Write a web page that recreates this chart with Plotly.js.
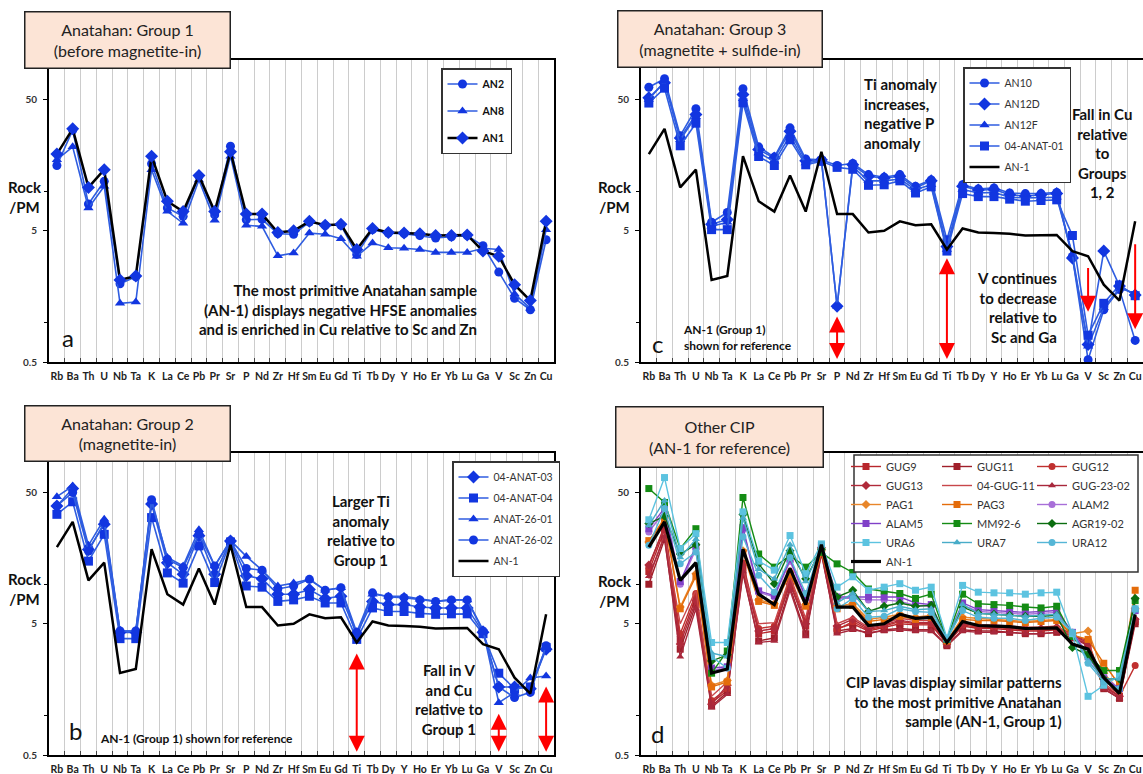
<!DOCTYPE html>
<html><head><meta charset="utf-8">
<script src="https://cdn.plot.ly/plotly-3.0.1.min.js"></script>
<style>html,body{margin:0;padding:0;background:#fff;}#chart{width:1143px;height:774px;}</style>
</head><body><div id="chart"></div>
<script>
const elements = ['Rb','Ba','Th','U','Nb','Ta','K','La','Ce','Pb','Pr','Sr','P','Nd','Zr','Hf','Sm','Eu','Gd','Ti','Tb','Dy','Y','Ho','Er','Yb','Lu','Ga','V','Sc','Zn','Cu'];
const yTickVals = [0.5, 5, 50];
const yTickText = ['0.5', '5', '50'];

// AN-1 (Group 1 reference, shown in every panel)
const AN1 = [19.2,29.9,10.7,14.6,2.11,2.26,18.5,8.4,7.0,13.2,7.0,20.0,6.7,6.7,4.85,5.0,5.9,5.5,5.6,3.6,5.2,4.85,4.8,4.75,4.6,4.6,4.65,3.5,3.2,1.94,1.47,5.9];
// Panel a: Group 1
const AN2 = [15.7,29.2,8.0,11.9,1.97,2.23,16.2,7.45,6.44,13.0,6.6,22.0,6.07,6.1,4.75,4.7,5.83,5.5,5.5,3.3,5.1,4.8,4.75,4.6,4.4,4.5,4.6,3.84,2.42,1.53,1.25,4.27];
const AN8 = [17.4,21.8,7.45,10.9,1.40,1.43,14.6,7.03,5.7,12.2,6.0,18.5,5.5,5.4,3.22,3.38,4.8,4.7,4.35,3.2,4.03,3.71,3.68,3.6,3.42,3.42,3.42,3.68,3.6,1.65,1.28,5.1];
// Panel c: Group 3
const AN10 = [62,72,26.5,42.5,5.8,6.9,60.4,21.8,18.2,30.4,17.6,17.4,15.7,16.3,13.4,12.8,13.4,10.9,12.2,4.27,11.2,10.4,10.6,9.7,9.6,9.6,9.8,3.18,0.52,1.25,1.78,0.73];
const AN12D = [51.5,67,25.5,38.4,5.6,6.1,54.5,20.8,17.9,28.6,17.1,17.4,1.33,15.9,13.0,12.6,13.0,10.6,12.0,3.8,10.9,10.2,10.3,9.4,9.2,9.4,9.6,3.1,0.68,3.5,1.9,1.62];
const AN12F = [50,69,24.7,37,5.4,5.8,50.6,19.6,16.9,26.5,16.4,17.2,1.33,15.4,12.0,12.0,12.4,10.3,11.2,3.6,10.3,9.7,9.8,9.0,8.9,8.9,9.0,3.3,0.66,1.3,1.82,1.67];
const ANAT0401 = [47,61,22.2,33,5.1,5.1,47.2,18.4,15.7,24.7,15.9,16.9,15.2,14.7,11.1,11.2,12.0,9.7,10.8,3.5,9.6,9.1,9.1,8.7,8.4,8.5,8.6,4.6,0.80,1.4,1.93,1.6];
// Panel b: Group 2
const ANAT0403 = [39.5,53.6,18.4,28.6,4.3,4.3,40.8,14.6,11.9,23.4,11.9,21.4,11.6,11.0,8.4,8.4,9.1,7.8,8.1,4.2,7.4,7.0,7.0,6.7,6.6,6.6,6.6,4.3,1.65,1.65,1.6,3.2];
const ANAT0404 = [34.1,42.5,15.0,24.0,3.85,3.85,32.2,12.2,10.2,19.6,10.3,21.0,9.7,9.5,7.4,7.6,8.1,7.2,7.2,3.8,6.6,6.2,6.2,6.0,5.9,5.95,5.95,4.2,2.1,1.6,1.65,3.3];
const ANAT2601 = [46.5,56,19.8,31.3,4.4,4.4,42.5,16.0,13.8,26,13.8,21.6,16.3,12.8,9.7,10.2,10.9,9.0,9.4,4.0,8.4,8.1,8.1,7.7,7.4,7.6,7.6,4.5,1.25,1.5,1.93,2.0];
const ANAT2602 = [39.5,50,17.9,29.5,4.4,4.4,44,15.5,13.4,24.1,13.8,21.4,13.2,12.8,9.2,9.7,10.9,9.0,9.4,4.3,8.6,8.0,7.9,7.6,7.4,7.6,7.6,4.4,1.65,1.37,1.5,3.4];
// Panel d: other CIP
const GUG9 = [12.5,26,3.8,8.0,1.25,1.55,13.5,4.2,4.4,10.5,4.8,18.0,4.6,5.0,4.4,4.7,5.0,4.9,4.9,3.5,4.8,4.6,4.6,4.5,4.4,4.4,4.5,4.0,3.6,1.7,1.4,5.2];
const GUG11 = [10.0,22,3.2,7.0,1.18,1.5,12.0,3.7,3.9,9.5,4.2,17.0,4.4,4.6,4.2,4.5,4.6,4.5,4.5,3.4,4.5,4.4,4.4,4.3,4.2,4.2,4.3,3.9,3.4,1.6,1.35,5.0];
const GUG12 = [13.5,28,4.2,8.5,1.3,1.6,14.5,4.6,4.8,11.0,5.2,18.5,4.5,5.2,4.5,4.8,5.2,5.0,5.0,3.6,4.9,4.7,4.7,4.6,4.5,4.5,4.6,4.1,3.7,1.7,1.4,2.4];
const GUG13 = [14,27,3.5,7.5,1.22,1.7,14,4.4,4.6,10.0,5.0,19,4.8,5.4,4.6,4.9,5.3,5.1,5.1,3.5,5.0,4.8,4.8,4.7,4.6,4.6,4.7,4.2,3.5,1.65,1.4,5.4];
const GUG0411 = [11,24,5.0,9.0,1.4,1.8,13,5.0,5.1,11.5,5.5,19.5,5.0,5.6,4.7,5.0,5.5,5.3,5.3,3.6,5.1,4.9,4.9,4.8,4.7,4.7,4.8,4.0,3.5,1.75,1.45,5.6];
const GUG2302 = [11.5,23,2.8,6.5,1.15,1.45,12.5,3.6,3.7,9.0,4.0,17.5,4.2,4.5,4.3,4.4,4.5,4.4,4.4,3.4,4.4,4.3,4.3,4.3,4.2,4.2,4.3,3.9,3.5,1.6,1.35,5.3];
const PAG1 = [21,32,6.7,12,1.7,1.85,18,7.6,7.1,12.5,7.0,18,6.8,7.1,5.4,5.6,5.9,5.6,5.8,3.7,5.6,5.5,5.4,5.3,5.2,5.3,5.4,4.2,4.4,2.1,1.55,6.5];
const PAG3 = [21.5,31,6.5,11.5,1.65,1.8,17.5,7.4,6.9,12.0,6.8,17.5,6.5,6.9,5.2,5.4,5.7,5.4,5.6,3.7,5.4,5.3,5.3,5.2,5.1,5.2,5.3,4.1,3.8,2.5,1.7,9.0];
const ALAM2 = [25,36,10,18.5,2.2,2.3,26,8.7,8.0,15.0,7.8,19.5,7.8,7.8,7.6,7.6,7.4,6.9,6.8,3.8,6.9,6.2,6.1,6.0,5.9,6.0,6.1,4.3,2.9,2.0,1.6,6.3];
const ALAM5 = [26.5,38,10.5,19.5,2.3,2.35,27,8.9,8.2,15.5,8.0,19.8,8.0,8.0,8.0,8.0,8.0,7.2,7.0,3.8,7.2,6.4,6.3,6.2,6.1,6.2,6.3,4.3,2.8,1.9,1.6,6.3];
const MM926 = [53.6,42,18.7,26.5,2.1,3.1,45.8,17,13.5,16.6,13.5,17.5,14.3,12.3,9.2,8.9,8.5,7.8,8.4,3.8,8.4,7.1,7.0,6.9,6.7,6.6,6.8,4.0,2.9,2.2,2.2,7.5];
const AGR1902 = [29,33,17,20,2.6,2.9,34,14.3,10.1,18,11.0,18.5,8.0,9.0,6.2,6.8,7.2,6.8,6.9,3.8,6.7,6.0,5.9,5.8,5.7,5.7,5.8,3.3,2.9,1.9,1.9,7.8];
const URA6 = [31,65,18.7,24.3,3.6,3.6,35.6,15,12.8,23.5,12.0,20.3,9.5,11.4,9.0,9.5,10.1,9.0,9.5,3.9,9.8,8.7,8.6,8.6,8.4,8.6,8.7,4.2,1.4,1.7,2.0,6.5];
const URA7 = [28,43.5,16,22,3.0,2.8,32,13,11.0,20,10.5,19.5,7.2,8.5,6.2,6.3,6.8,6.4,6.5,3.8,7.0,6.0,5.9,5.8,5.7,5.8,5.9,4.3,2.6,1.9,1.9,6.3];
const URA12 = [19.8,37.8,14.3,17.6,2.8,2.3,23,11.7,8.7,16,8.5,20,6.5,7.8,5.6,5.7,6.5,6.2,6.1,3.8,6.3,5.6,5.5,5.5,5.3,5.5,5.6,4.3,2.5,1.8,1.6,6.5];

const W = 1143, H = 774;
const px = v => v / W;
const py = v => 1 - v / H;
const FONT = 'Lato, "Open Sans", sans-serif';
const BLUE_L = '#2f5de0', BLUE_M = '#1236e0';

function blue(name, y, sym, xa, ya, leg, grp) {
  return {type:'scatter', mode:'lines+markers', name, x: elements, y, xaxis: xa, yaxis: ya, legend: leg, legendgroup: grp,
    line:{color:BLUE_L, width:1.6}, marker:{symbol:sym, size: sym==='diamond'?10:9, color:BLUE_M, line:{width:0}}};
}
function blackLine(y, xa, ya, leg, w, grp) {
  return {type:'scatter', mode:'lines', name:'AN-1', x: elements, y, xaxis: xa, yaxis: ya, legend: leg, legendgroup: grp,
    line:{color:'#000', width:w}};
}
function cip(name, y, sym, color, leg, mode) {
  return {type:'scatter', mode: mode || 'lines+markers', name, x: elements, y, xaxis:'x4', yaxis:'y4', legend: leg,
    line:{color, width:1.4}, marker:{symbol:sym, size:7, color, line:{width:0}}};
}

const traces = [
  // a
  blue('AN2', AN2, 'circle', 'x', 'y', 'legend', 'a1'),
  blue('AN8', AN8, 'triangle-up', 'x', 'y', 'legend', 'a2'),
  {type:'scatter', mode:'lines+markers', name:'AN1', x: elements, y: AN1, xaxis:'x', yaxis:'y', legend:'legend', legendgroup:'a3',
    line:{color:'#000', width:2.5}, marker:{symbol:'diamond', size:10, color:BLUE_M, line:{width:0}}},
  // c
  blue('AN10', AN10, 'circle', 'x2', 'y2', 'legend2', 'c1'),
  blue('AN12D', AN12D, 'diamond', 'x2', 'y2', 'legend2', 'c2'),
  blue('AN12F', AN12F, 'triangle-up', 'x2', 'y2', 'legend2', 'c3'),
  blue('04-ANAT-01', ANAT0401, 'square', 'x2', 'y2', 'legend2', 'c4'),
  blackLine(AN1, 'x2', 'y2', 'legend2', 2.5, 'c5'),
  // b
  blue('04-ANAT-03', ANAT0403, 'diamond', 'x3', 'y3', 'legend3', 'b1'),
  blue('04-ANAT-04', ANAT0404, 'square', 'x3', 'y3', 'legend3', 'b2'),
  blue('ANAT-26-01', ANAT2601, 'triangle-up', 'x3', 'y3', 'legend3', 'b3'),
  blue('ANAT-26-02', ANAT2602, 'circle', 'x3', 'y3', 'legend3', 'b4'),
  blackLine(AN1, 'x3', 'y3', 'legend3', 2.5, 'b5'),
  // d
  cip('GUG9', GUG9, 'square', '#b8262c', 'legend4'),
  cip('GUG11', GUG11, 'square', '#a01f2a', 'legend5'),
  cip('GUG12', GUG12, 'circle', '#c0302f', 'legend6'),
  cip('GUG13', GUG13, 'diamond', '#b02a3a', 'legend4'),
  cip('04-GUG-11', GUG0411, 'circle', '#c8464a', 'legend5', 'lines'),
  cip('GUG-23-02', GUG2302, 'triangle-up', '#a8283c', 'legend6'),
  cip('PAG1', PAG1, 'diamond', '#e8862a', 'legend4'),
  cip('PAG3', PAG3, 'square', '#e46c0a', 'legend5'),
  cip('ALAM2', ALAM2, 'circle', '#a86fd8', 'legend6'),
  cip('ALAM5', ALAM5, 'square', '#8040c8', 'legend4'),
  cip('MM92-6', MM926, 'square', '#148c14', 'legend5'),
  cip('AGR19-02', AGR1902, 'diamond', '#0b6e10', 'legend6'),
  cip('URA6', URA6, 'square', '#5cc3e0', 'legend4'),
  cip('URA7', URA7, 'triangle-up', '#48acc8', 'legend5'),
  cip('URA12', URA12, 'circle', '#55b6d6', 'legend6'),
  blackLine(AN1, 'x4', 'y4', 'legend4', 3.2)
];

function xAxis(dom, anchor) {
  return {domain: dom, anchor, type:'category', categoryorder:'array', categoryarray: elements, range:[-0.5, 31.5],
    tickson:'boundaries', showgrid:true, gridcolor:'#cccccc', gridwidth:1, showline:true, linecolor:'#000', linewidth:2,
    mirror:true, ticks:'inside', ticklen:4, tickcolor:'#444', zeroline:false, tickangle:0,
    tickfont:{family:FONT, size:10.5, weight:'bold', color:'#222'}, ticklabelstandoff:3};
}
function yAxis(dom, anchor) {
  return {domain: dom, anchor, type:'log', range:[Math.log10(0.5), 2], tickmode:'array', tickvals: yTickVals, ticktext: yTickText,
    showgrid:false, showline:true, linecolor:'#000', linewidth:2, mirror:true, ticks:'outside', ticklen:4, tickcolor:'#000',
    minor:{tickmode:'array', tickvals:[1,10,100], ticks:'outside', ticklen:3, tickcolor:'#000', showgrid:false},
    zeroline:false, tickfont:{family:FONT, size:10, weight:'bold', color:'#333'}, ticklabelstandoff:4};
}

const xa = [px(49), px(554)], xc = [px(641), 1];
const yTop = [py(362), py(60)], yBot = [py(755), py(453)];

function txt(text, x, y, o) {
  return Object.assign({xref:'paper', yref:'paper', x: px(x), y: py(y), text, showarrow:false,
    font:{family:FONT, size:15, weight:'bold', color:'#111'}, xanchor:'center', yanchor:'middle'}, o || {});
}
function box(text, x0, x1, y0, y1) {
  return {xref:'paper', yref:'paper', x: px((x0+x1)/2), y: py((y0+y1)/2), text, showarrow:false,
    xanchor:'center', yanchor:'middle', width: x1-x0-4, height: y1-y0-4, borderpad:1,
    bgcolor:'#fce4d6', bordercolor:'#222', borderwidth:1.5, align:'center',
    font:{family:FONT, size:16, color:'#222'}};
}
function arrow(xref, yref, el, yHead, yTail, both) {
  return {xref, yref, axref: xref, ayref: yref, x: elements.indexOf(el), y: Math.log10(yHead),
    ax: elements.indexOf(el), ay: Math.log10(yTail), text:'', showarrow:true, arrowhead:2, arrowsize:1.6,
    arrowwidth:2, arrowcolor:'#ff0000', arrowside: both ? 'end+start' : 'end', standoff:0, startstandoff:0};
}

const annotations = [
  box('Anatahan: Group 1<br>(before magnetite-in)', 24, 230, 12, 69),
  box('Anatahan: Group 3<br>(magnetite + sulfide-in)', 617, 822, 10, 67),
  box('Anatahan: Group 2<br>(magnetite-in)', 24, 230, 405, 461),
  box('Other CIP<br>(AN-1 for reference)', 615, 823, 406, 467),
  // y titles
  txt('Rock<br>/PM', 25, 197, {font:{family:FONT, size:15, weight:'bold', color:'#111'}}),
  txt('Rock<br>/PM', 615, 197, {font:{family:FONT, size:15, weight:'bold', color:'#111'}}),
  txt('Rock<br>/PM', 25, 589, {font:{family:FONT, size:15, weight:'bold', color:'#111'}}),
  txt('Rock<br>/PM', 615, 591, {font:{family:FONT, size:15, weight:'bold', color:'#111'}}),
  // panel letters
  txt('a', 68, 338, {font:{family:FONT, size:24, color:'#111'}}),
  txt('c', 657, 343, {font:{family:FONT, size:24, color:'#111'}}),
  txt('b', 75, 730, {font:{family:FONT, size:24, color:'#111'}}),
  txt('d', 657, 733, {font:{family:FONT, size:24, color:'#111'}}),
  // panel a
  txt('The most primitive Anatahan sample<br>(AN-1) displays negative HFSE anomalies<br>and is enriched in Cu relative to Sc and Zn', 479, 309, {xanchor:'right', align:'right'}),
  // panel c
  txt('Ti anomaly<br>increases,<br>negative P<br>anomaly', 862, 113, {xanchor:'left', align:'left'}),
  txt('Fall in Cu<br>relative<br>to<br>Groups<br>1, 2', 1102, 153, {align:'center'}),
  txt('V continues<br>to decrease<br>relative to<br>Sc and Ga', 1059, 307, {xanchor:'right', align:'right'}),
  txt('AN-1 (Group 1)<br>shown for reference', 681, 337, {xanchor:'left', align:'left', font:{family:FONT, size:12, weight:'bold', color:'#111'}}),
  // panel b
  txt('Larger Ti<br>anomaly<br>relative to<br>Group 1', 361, 530, {align:'center'}),
  txt('Fall in V<br>and Cu<br>relative to<br>Group 1', 449, 699, {align:'center'}),
  txt('AN-1 (Group 1) shown for reference', 98, 738, {xanchor:'left', font:{family:FONT, size:12, weight:'bold', color:'#111'}}),
  // panel d
  txt('CIP lavas display similar patterns<br>to the most primitive Anatahan<br>sample (AN-1, Group 1)', 1064, 701, {xanchor:'right', align:'right'}),
  // red arrows
  arrow('x2', 'y2', 'P', 0.527, 1.14, true),
  arrow('x2', 'y2', 'Ti', 0.527, 3.17, true),
  arrow('x2', 'y2', 'V', 1.21, 2.67, false),
  arrow('x2', 'y2', 'Cu', 0.89, 4.05, false),
  arrow('x3', 'y3', 'Ti', 0.53, 3.05, true),
  arrow('x3', 'y3', 'V', 0.53, 1.06, true),
  arrow('x3', 'y3', 'Cu', 0.53, 1.71, true)
];

function legendCfg(x, y, o) {
  return Object.assign({x: px(x), y: py(y), xanchor:'left', yanchor:'top', bgcolor:'#fff', bordercolor:'#333', borderwidth:1.5,
    font:{family:FONT, size:10.5, color:'#333'}, tracegroupgap:2, itemclick:false, itemdoubleclick:false}, o || {});
}
const dLegFont = {family:FONT, size:11, color:'#333'};

const layout = {
  width: W, height: H, margin:{l:0, r:0, t:0, b:0}, paper_bgcolor:'#fff', plot_bgcolor:'#fff', showlegend:true,
  xaxis: xAxis(xa, 'y'), yaxis: yAxis(yTop, 'x'),
  xaxis2: xAxis(xc, 'y2'), yaxis2: yAxis(yTop, 'x2'),
  xaxis3: xAxis(xa, 'y3'), yaxis3: yAxis(yBot, 'x3'),
  xaxis4: xAxis(xc, 'y4'), yaxis4: yAxis(yBot, 'x4'),
  legend: legendCfg(441, 68, {tracegroupgap:8, font:{family:FONT, size:10.5, weight:'bold', color:'#111'}}),
  legend2: legendCfg(963, 67),
  legend3: legendCfg(452, 461),
  legend4: legendCfg(846, 452, {bgcolor:'rgba(0,0,0,0)', borderwidth:0, font:dLegFont}),
  legend5: legendCfg(937, 452, {bgcolor:'rgba(0,0,0,0)', borderwidth:0, font:dLegFont}),
  legend6: legendCfg(1032, 452, {bgcolor:'rgba(0,0,0,0)', borderwidth:0, font:dLegFont}),
  shapes: [{type:'rect', xref:'paper', yref:'paper', x0: px(854), x1: px(1138), y0: py(455), y1: py(572),
    fillcolor:'#fff', line:{color:'#333', width:1.5}, layer:'above'}],
  annotations
};

Plotly.newPlot('chart', traces, layout, {staticPlot:true, displayModeBar:false});
</script></body></html>
